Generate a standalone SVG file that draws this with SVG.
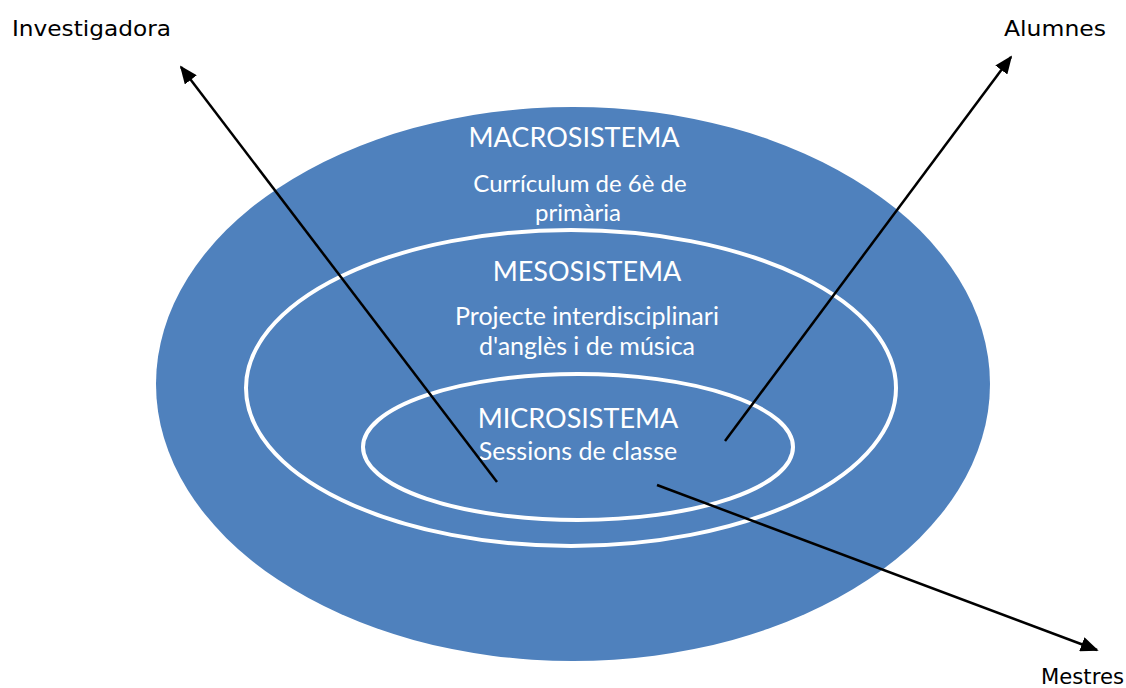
<svg xmlns="http://www.w3.org/2000/svg" width="1126" height="688" viewBox="0 0 1126 688">
<style>
.ell{fill:#4F81BD}
.ring{fill:none;stroke:#fff;stroke-width:4}
.t{font-family:Lato,"Open Sans","Liberation Sans",sans-serif;fill:#fff;text-anchor:middle}
.h{font-size:27px}
.s{font-size:25px}
.s2{font-size:24px}
.lbl{font-family:"DejaVu Sans","Liberation Sans",sans-serif;font-size:22px;fill:#000}
.c{stroke:#000;stroke-width:2.5;fill:none;marker-end:url(#ah)}
</style>
<defs>
<marker id="ah" viewBox="0 0 10 10" refX="9" refY="5" markerWidth="18" markerHeight="15" markerUnits="userSpaceOnUse" orient="auto" preserveAspectRatio="none">
<path d="M0,0 L10,5 L0,10 z" fill="#000"/>
</marker>
</defs>
<g id="macro">
<ellipse class="ell" cx="573" cy="384" rx="417" ry="277"/>
<text class="t h" x="574" y="147">MACROSISTEMA</text>
<text class="t s2" x="580" y="192">Currículum de 6è de</text>
<text class="t s2" x="578" y="221">primària</text>
</g>
<g id="meso">
<ellipse class="ring" cx="571" cy="388" rx="325" ry="158"/>
<text class="t h" x="587" y="281">MESOSISTEMA</text>
<text class="t s" x="587" y="325">Projecte interdisciplinari</text>
<text class="t s" x="587" y="355">d'anglès i de música</text>
</g>
<g id="micro">
<ellipse class="ring" cx="578" cy="447" rx="215" ry="73"/>
<text class="t h" x="578" y="428">MICROSISTEMA</text>
<text class="t s" x="578" y="460">Sessions de classe</text>
</g>
<g id="investigadora"><text class="lbl" x="12" y="36" textLength="159" lengthAdjust="spacingAndGlyphs">Investigadora</text></g>
<g id="alumnes"><text class="lbl" x="1004" y="36" textLength="102" lengthAdjust="spacingAndGlyphs">Alumnes</text></g>
<g id="mestres"><text class="lbl" x="1041" y="684" textLength="83" lengthAdjust="spacingAndGlyphs">Mestres</text></g>
<g id="connectors">
<line class="c" x1="497" y1="482" x2="181" y2="67"/>
<line class="c" x1="725" y1="441" x2="1011" y2="57"/>
<line class="c" x1="657" y1="485" x2="1097" y2="650"/>
</g>
</svg>
